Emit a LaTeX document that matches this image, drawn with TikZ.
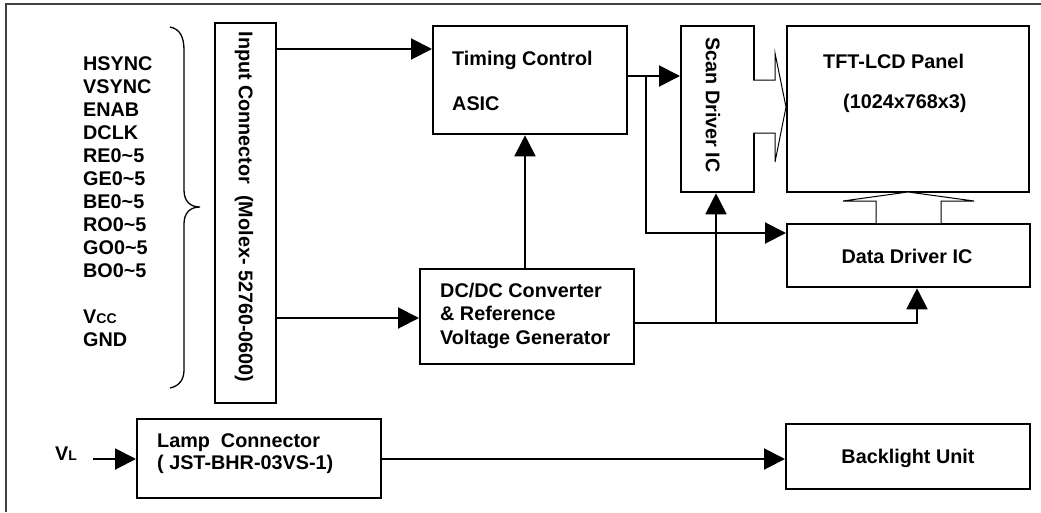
\documentclass[tikz,border=0pt]{standalone}
\usepackage{fontspec}
\setmainfont{Liberation Sans}
\usetikzlibrary{arrows.meta}
\begin{document}
\begin{tikzpicture}[x=1pt,y=-1pt,
  box/.style={draw, line width=2.3pt, inner sep=0pt, anchor=north west},
  txt/.style={font=\fontsize{19.8}{23}\selectfont\bfseries, inner sep=0pt},
  conn/.style={line width=2pt, -{Triangle[length=21pt,width=21pt]}},
  hollow/.style={draw, line width=1pt, fill=white, line join=miter},
  bracestyle/.style={line width=1.3pt},
  framestyle/.style={draw=black!75, line width=1.5pt}]

\useasboundingbox (0,0) rectangle (1041,512);

% outer frame (top and left edges only)
\draw[framestyle] (1041,4) -- (6,4) -- (6,512);

% boxes
\node[box, minimum width=61pt,  minimum height=380pt] (in)   at (214,22)  {};
\node[box, minimum width=194pt, minimum height=108pt] (tc)   at (432,25)  {};
\node[box, minimum width=73pt,  minimum height=166pt] (sd)   at (680,25)  {};
\node[box, minimum width=242pt, minimum height=166pt] (tft)  at (786,25)  {};
\node[box, minimum width=243pt, minimum height=63pt]  (dd)   at (786,223) {};
\node[box, minimum width=214pt, minimum height=95pt]  (dc)   at (419,268) {};
\node[box, minimum width=244pt, minimum height=79pt]  (lamp) at (136,418) {};
\node[box, minimum width=244pt, minimum height=65pt]  (bl)   at (785,423) {};

% texts
\node[txt, align=left, anchor=north west] (sig) at (83,56)
 {HSYNC\\VSYNC\\ENAB\\DCLK\\RE0\textasciitilde5\\GE0\textasciitilde5\\BE0\textasciitilde5\\RO0\textasciitilde5\\GO0\textasciitilde5\\BO0\textasciitilde5\\[23pt]V{\fontsize{14}{14}\selectfont CC}\\GND};
\node[txt, rotate=-90] (inlbl) at (244,207) {Input Connector\ \ (Molex- 52760-0600)};
\node[txt, rotate=-90] (sdlbl) at (713,105) {Scan Driver IC};
\node[txt, anchor=base west] (tc1) at (452,65)  {Timing Control};
\node[txt, anchor=base west] (tc2) at (452,110) {ASIC};
\node[txt, anchor=base west] (tft1) at (823,68)  {TFT-LCD Panel};
\node[txt, anchor=base west] (tft2) at (843,108) {(1024x768x3)};
\node[txt, anchor=base] (ddl) at (907,263) {Data Driver IC};
\node[txt, anchor=base west] (dc1) at (440,297) {DC/DC Converter};
\node[txt, anchor=base west] (dc2) at (440,320) {\& Reference};
\node[txt, anchor=base west] (dc3) at (440,344) {Voltage Generator};
\node[txt, anchor=base west] (lp1) at (157,447) {Lamp\ \ Connector};
\node[txt, anchor=base west] (lp2) at (157,469) {( JST-BHR-03VS-1)};
\node[txt, anchor=base west] (vll) at (55,460) {V{\fontsize{14}{14}\selectfont L}};
\node[txt, anchor=base] (bll) at (908,463) {Backlight Unit};

% brace
\draw[bracestyle] (170,27) .. controls (180,29) and (184,37) .. (184,50) -- (184,190)
  .. controls (184,201) and (190,207) .. (200,207)
  .. controls (190,207) and (184,213) .. (184,224) -- (184,370)
  .. controls (184,380) and (179,386) .. (170,388);

% connectors
\coordinate (yA) at (0,49);
\draw[conn] (in.east |- yA) -- (tc.west |- yA);
\coordinate (yB) at (0,318);
\draw[conn] (in.east |- yB) -- (dc.west |- yB);
\coordinate (xC) at (525,0);
\draw[conn] (dc.north -| xC) -- (tc.south -| xC);
\coordinate (yD) at (0,76);
\draw[conn] (tc.east |- yD) -- (sd.west |- yD);
\coordinate (j1) at (646,76);
\coordinate (j2) at (646,233);
\draw[conn] (j1) -- (j2) -- (dd.west |- j2);
\coordinate (yE) at (0,323);
\coordinate (j3) at (716,323);
\coordinate (j4) at (917,323);
\draw[conn] (dc.east |- yE) -- (j4) -- (dd.south -| j4);
\draw[conn] (j3) -- (sd.south -| j3);
\coordinate (vl) at (93,459);
\draw[conn] (vl) -- (lamp.west |- vl);
\draw[conn] (lamp.east |- vl) -- (bl.west |- vl);

% hollow bus arrows
\draw[hollow] (753,80) -- (775,80) -- (775,53) -- (786,107) -- (775,162) -- (775,133) -- (753,133);
\draw[hollow] (876,223) -- (876,201) -- (843,201) -- (908,192) -- (974,201) -- (941,201) -- (941,223);
\end{tikzpicture}
\end{document}
